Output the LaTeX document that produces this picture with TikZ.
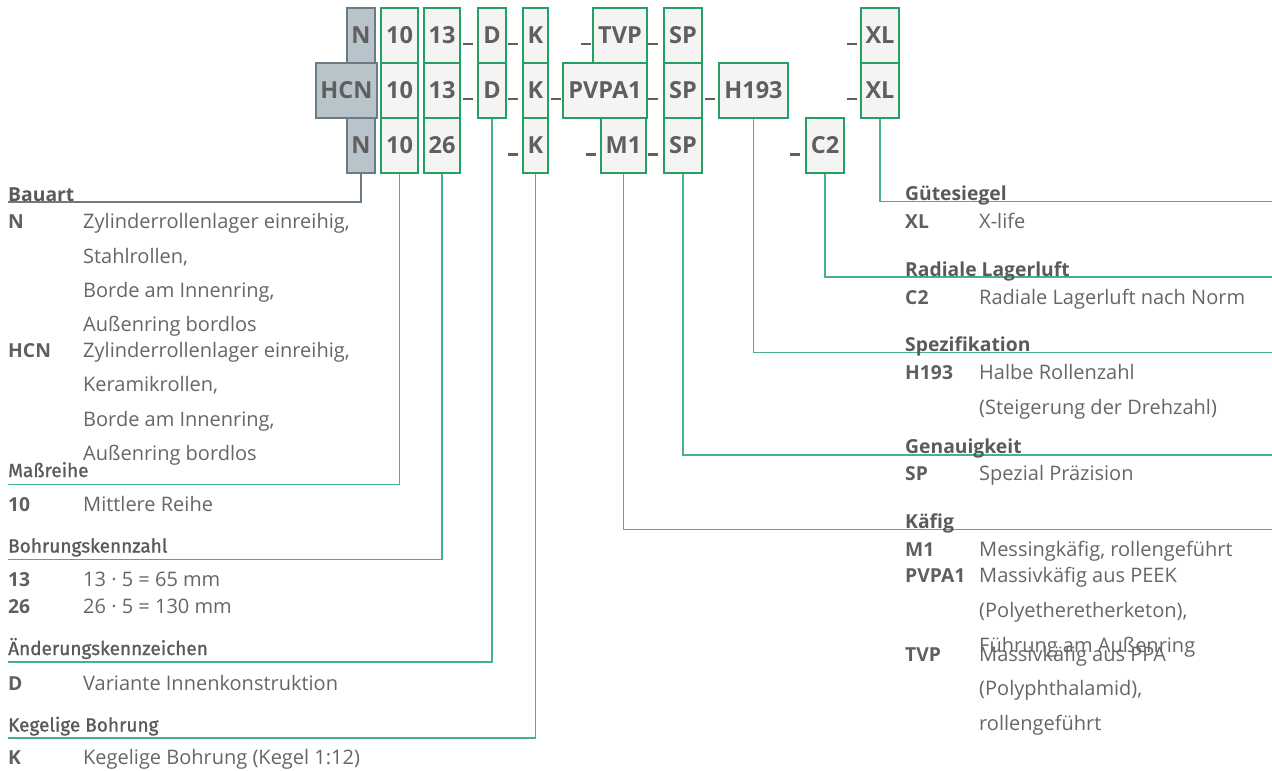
\documentclass[tikz,border=0pt]{standalone}
\usepackage{fontspec}
\setmainfont{Open Sans}
\newfontfamily\headfont{Fira Sans}[FakeBold=1.2]
\definecolor{boxgreen}{RGB}{35,160,100}
\definecolor{linegreen}{RGB}{70,180,130}
\definecolor{boxfill}{RGB}{244,244,244}
\definecolor{grayfill}{RGB}{185,195,202}
\definecolor{grayline}{RGB}{108,122,134}
\definecolor{txtgray}{RGB}{95,95,95}
\definecolor{bodygray}{RGB}{102,102,102}
\definecolor{headgray}{RGB}{90,90,90}
\tikzset{
  codebox/.style={draw=boxgreen, fill=boxfill, line width=1.1pt, inner sep=0pt, minimum height=55pt,
    font=\fontsize{23.5}{26}\selectfont\bfseries, text=txtgray, anchor=center},
  graybox/.style={codebox, draw=grayline, fill=grayfill},
  usc/.style={fill=txtgray, draw=none, minimum width=10pt, minimum height=2.6pt, inner sep=0pt},
  conn/.style={draw=linegreen, line width=1.3pt},
  gconn/.style={draw=grayline, line width=1.3pt},
  keytxt/.style={anchor=base west, inner sep=0pt, font=\fontsize{19.3}{22}\selectfont\bfseries, text=txtgray},
  desctxt/.style={anchor=base west, inner sep=0pt, font=\fontsize{20}{23}\selectfont, text=bodygray},
  headtxt/.style={anchor=base west, inner sep=0pt, font=\headfont\fontsize{19}{22}\selectfont, text=headgray},
  headb/.style={anchor=base west, inner sep=0pt, font=\fontsize{19.3}{22}\selectfont\bfseries, text=headgray},
}
\begin{document}
\begin{tikzpicture}[x=1pt,y=-1pt]
\useasboundingbox (0,0) rectangle (1272,771);
% ---------- row 1
\node[graybox, minimum width=28pt] (r1N) at (361,35.5) {N};
\node[codebox, minimum width=37pt] (r1a) at (399.5,35.5) {10};
\node[codebox, minimum width=36pt] (r1b) at (442,35.5) {13};
\node[codebox, minimum width=28pt] (r1D) at (492,35.5) {D};
\node[codebox, minimum width=25pt] (r1K) at (535.5,35.5) {K};
\node[codebox, minimum width=54pt] (r1T) at (620,35.5) {TVP};
\node[codebox, minimum width=38pt] (r1S) at (683,35.5) {SP};
\node[codebox, minimum width=38pt] (r1X) at (880,35.5) {XL};
\node[usc] (u11) at (468,44) {};
\node[usc] (u12) at (512.5,44) {};
\node[usc] (u13) at (585.5,44) {};
\node[usc] (u14) at (653,44) {};
\node[usc] (u15) at (852,44) {};
% ---------- row 2
\node[graybox, minimum width=61pt] (r2N) at (346.5,90.5) {HCN};
\node[codebox, minimum width=37pt] (r2a) at (399.5,90.5) {10};
\node[codebox, minimum width=36pt] (r2b) at (442,90.5) {13};
\node[codebox, minimum width=28pt] (r2D) at (492,90.5) {D};
\node[codebox, minimum width=25pt] (r2K) at (535.5,90.5) {K};
\node[codebox, minimum width=84pt] (r2P) at (605,90.5) {PVPA1};
\node[codebox, minimum width=38pt] (r2S) at (683,90.5) {SP};
\node[codebox, minimum width=69pt] (r2H) at (753.5,90.5) {H193};
\node[codebox, minimum width=38pt] (r2X) at (880,90.5) {XL};
\node[usc] (u21) at (468,99) {};
\node[usc] (u22) at (512.5,99) {};
\node[usc] (u23) at (555.5,99) {};
\node[usc] (u24) at (653,99) {};
\node[usc] (u25) at (710,99) {};
\node[usc] (u26) at (852,99) {};
% ---------- row 3
\node[graybox, minimum width=28pt] (r3N) at (361,145.5) {N};
\node[codebox, minimum width=37pt] (r3a) at (399.5,145.5) {10};
\node[codebox, minimum width=36pt] (r3b) at (442,145.5) {26};
\node[codebox, minimum width=25pt] (r3K) at (535.5,145.5) {K};
\node[codebox, minimum width=45pt] (r3M) at (623.5,145.5) {M1};
\node[codebox, minimum width=38pt] (r3S) at (683,145.5) {SP};
\node[codebox, minimum width=38pt] (r3C) at (825,145.5) {C2};
\node[usc] (u31) at (512.5,154.5) {};
\node[usc] (u32) at (591,154.5) {};
\node[usc] (u33) at (653,154.5) {};
\node[usc] (u34) at (795,154.5) {};
% ---------- connector ends
\coordinate (eBau) at (8,202);
\coordinate (eMas) at (8,484.5);
\coordinate (eBoh) at (8,559.5);
\coordinate (eAen) at (8,662);
\coordinate (eKeg) at (8,738);
\coordinate (eGue) at (1272,201.5);
\coordinate (eRad) at (1272,277);
\coordinate (eSpe) at (1272,352.5);
\coordinate (eGen) at (1272,455);
\coordinate (eKaf) at (1272,529.5);
\draw[gconn] (r3N.south) |- (eBau);
\draw[conn] (r3a.south) |- (eMas);
\draw[conn] (r3b.south) |- (eBoh);
\draw[conn] (r2D.south) |- (eAen);
\draw[conn] (r3K.south) |- (eKeg);
\draw[conn] (r2X.south) |- (eGue);
\draw[conn] (r3C.south) |- (eRad);
\draw[conn] (r2H.south) |- (eSpe);
\draw[conn] (r3S.south) |- (eGen);
\draw[conn] (r3M.south) |- (eKaf);
% ---------- left texts
\node[headb] (hBau) at (8,201) {Bauart};
\node[keytxt] (kN) at (8,228) {N};
\node[desctxt] (dN1) at (83,228) {Zylinderrollenlager einreihig,};
\node[desctxt] (dN2) at (83,263) {Stahlrollen,};
\node[desctxt] (dN3) at (83,297.5) {Borde am Innenring,};
\node[desctxt] (dN4) at (83,331.5) {Außenring bordlos};
\node[keytxt] (kHCN) at (8,357) {HCN};
\node[desctxt] (dH1) at (83,357) {Zylinderrollenlager einreihig,};
\node[desctxt] (dH2) at (83,391) {Keramikrollen,};
\node[desctxt] (dH3) at (83,426.5) {Borde am Innenring,};
\node[desctxt] (dH4) at (83,460.5) {Außenring bordlos};
\node[headtxt] (hMas) at (8,477) {Maßreihe};
\node[keytxt] (k10) at (8,511.5) {10};
\node[desctxt] (d10) at (83,511.5) {Mittlere Reihe};
\node[headtxt] (hBoh) at (8,552.5) {Bohrungskennzahl};
\node[keytxt] (k13) at (8,586.5) {13};
\node[desctxt] (d13) at (83,586.5) {13 · 5 = 65 mm};
\node[keytxt] (k26) at (8,613) {26};
\node[desctxt] (d26) at (83,613) {26 · 5 = 130 mm};
\node[headtxt] (hAen) at (8,655) {Änderungskennzeichen};
\node[keytxt] (kD) at (8,690.5) {D};
\node[desctxt] (dD) at (83,690.5) {Variante Innenkonstruktion};
\node[headtxt] (hKeg) at (8,731.5) {Kegelige Bohrung};
\node[keytxt] (kK) at (8,764) {K};
\node[desctxt] (dK) at (83,764) {Kegelige Bohrung (Kegel 1:12)};
% ---------- right texts
\node[headb] (hGue) at (905,200) {Gütesiegel};
\node[keytxt] (kXL) at (905,228) {XL};
\node[desctxt] (dXL) at (979,228) {X-life};
\node[headb] (hRad) at (905,276) {Radiale Lagerluft};
\node[keytxt] (kC2) at (905,304) {C2};
\node[desctxt] (dC2) at (979,304) {Radiale Lagerluft nach Norm};
\node[headb] (hSpe) at (905,351) {Spezifikation};
\node[keytxt] (kH) at (905,379) {H193};
\node[desctxt] (dH193a) at (979,379) {Halbe Rollenzahl};
\node[desctxt] (dH193b) at (979,414.5) {(Steigerung der Drehzahl)};
\node[headb] (hGen) at (905,453) {Genauigkeit};
\node[keytxt] (kSP) at (905,480.5) {SP};
\node[desctxt] (dSP) at (979,480.5) {Spezial Präzision};
\node[headb] (hKaf) at (905,528) {Käfig};
\node[keytxt] (kM1) at (905,556) {M1};
\node[desctxt] (dM1) at (979,556) {Messingkäfig, rollengeführt};
\node[keytxt] (kPV) at (905,582.5) {PVPA1};
\node[desctxt] (dPV1) at (979,582.5) {Massivkäfig aus PEEK};
\node[desctxt] (dPV2) at (979,617.5) {(Polyetheretherketon),};
\node[desctxt] (dPV3) at (979,652) {Führung am Außenring};
\node[keytxt] (kTVP) at (905,661) {TVP};
\node[desctxt] (dT1) at (979,661) {Massivkäfig aus PPA};
\node[desctxt] (dT2) at (979,695) {(Polyphthalamid),};
\node[desctxt] (dT3) at (979,730) {rollengeführt};
\end{tikzpicture}
\end{document}
